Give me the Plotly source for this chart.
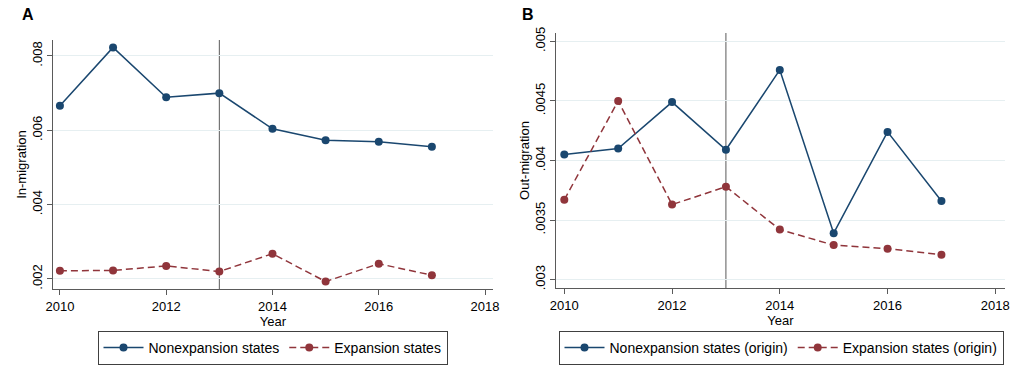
import plotly.graph_objects as go

years = [2010, 2011, 2012, 2013, 2014, 2015, 2016, 2017]
policy_year = 2013

# Panel A: In-migration
in_nonexp = [0.00666, 0.00823, 0.00689, 0.00700, 0.00604, 0.00573, 0.00569, 0.00556]
in_exp = [0.00222, 0.00223, 0.00235, 0.00220, 0.00268, 0.00193, 0.00241, 0.00210]

# Panel B: Out-migration
out_nonexp = [0.00405, 0.00410, 0.00449, 0.00409, 0.00476, 0.00339, 0.00424, 0.00366]
out_exp = [0.00367, 0.00450, 0.00363, 0.00378, 0.00342, 0.00329, 0.00326, 0.00321]

x_ticks = [2010, 2012, 2014, 2016, 2018]
a_yticks = [0.002, 0.004, 0.006, 0.008]
a_ylabels = [".002", ".004", ".006", ".008"]
b_yticks = [0.003, 0.0035, 0.004, 0.0045, 0.005]
b_ylabels = [".003", ".0035", ".004", ".0045", ".005"]

NAVY = "#1a476f"
MAROON = "#90353b"
GRID = "#e6eff1"
AXIS = "#5a5a5a"
FONT = "Arial, Liberation Sans, sans-serif"

W, H = 1021, 376

fig = go.Figure()

def add(x, y, name, color, dash, xa, ya, legend):
    fig.add_trace(go.Scatter(
        x=x, y=y, name=name, mode="lines+markers",
        line=dict(color=color, width=1.5, dash=dash),
        marker=dict(color=color, size=8),
        xaxis=xa, yaxis=ya, legend=legend,
    ))

add(years, in_nonexp, "Nonexpansion states", NAVY, "solid", "x", "y", "legend")
add(years, in_exp, "Expansion states", MAROON, "7px,4px", "x", "y", "legend")
add(years, out_nonexp, "Nonexpansion states (origin)", NAVY, "solid", "x2", "y2", "legend2")
add(years, out_exp, "Expansion states (origin)", MAROON, "7px,4px", "x2", "y2", "legend2")

def px_x(p):
    return p / W

def px_y(p):
    return (H - p) / H

xcommon = dict(
    tickvals=x_ticks, showgrid=False, zeroline=False, automargin=False,
    showline=True, linecolor=AXIS, linewidth=1,
    ticks="outside", ticklen=5, tickcolor=AXIS,
    tickfont=dict(size=13, color="black", family=FONT),
    title=dict(text="Year", font=dict(size=13, color="black", family=FONT), standoff=0),
)
ycommon = dict(
    showgrid=True, gridcolor=GRID, gridwidth=1, zeroline=False, automargin=False,
    showline=True, linecolor=AXIS, linewidth=1,
    ticks="outside", ticklen=5, tickcolor=AXIS, tickangle=-90,
    tickfont=dict(size=13, color="black", family=FONT),
)

fig.update_layout(
    width=W, height=H,
    margin=dict(l=0, r=0, t=0, b=0, pad=0),
    paper_bgcolor="white", plot_bgcolor="white",
    font=dict(family=FONT, color="black"),
    xaxis=dict(xcommon, domain=[px_x(53), px_x(493)], range=[2009.87, 2018.15], anchor="y"),
    yaxis=dict(ycommon, domain=[px_y(289), px_y(40)], range=[0.00173, 0.00843],
               tickvals=a_yticks, ticktext=a_ylabels, anchor="x",
               title=dict(text="In-migration", font=dict(size=13, color="black", family=FONT), standoff=0)),
    xaxis2=dict(xcommon, domain=[px_x(556), px_x(1005)], range=[2009.846, 2018.18], anchor="y2"),
    yaxis2=dict(ycommon, domain=[px_y(288), px_y(33)], range=[0.00293, 0.00507],
                tickvals=b_yticks, ticktext=b_ylabels, anchor="x2",
                title=dict(text="Out-migration", font=dict(size=13, color="black", family=FONT), standoff=0)),
    legend=dict(
        orientation="h", x=px_x(272.5), xanchor="center", y=px_y(331), yanchor="top",
        bordercolor="#404040", borderwidth=1, bgcolor="white",
        font=dict(size=14, color="black", family=FONT), itemwidth=40,
    ),
    legend2=dict(
        orientation="h", x=px_x(781), xanchor="center", y=px_y(331), yanchor="top",
        bordercolor="#404040", borderwidth=1, bgcolor="white",
        font=dict(size=14, color="black", family=FONT), itemwidth=40,
    ),
    shapes=[
        dict(type="line", xref="x", yref="y domain", x0=policy_year, x1=policy_year, y0=0, y1=1,
             line=dict(color=AXIS, width=1), layer="below"),
        dict(type="line", xref="x2", yref="y2 domain", x0=policy_year, x1=policy_year, y0=0, y1=1,
             line=dict(color=AXIS, width=1), layer="below"),
    ],
    annotations=[
        dict(text="<b>A</b>", x=px_x(20), y=px_y(4), xref="paper", yref="paper",
             xanchor="left", yanchor="top", showarrow=False, font=dict(size=16, color="black", family=FONT)),
        dict(text="<b>B</b>", x=px_x(520), y=px_y(4), xref="paper", yref="paper",
             xanchor="left", yanchor="top", showarrow=False, font=dict(size=16, color="black", family=FONT)),
    ],
)

fig.write_html(
    "out.html",
    config={"displayModeBar": False},
    post_script="document.body.style.margin='0';document.body.style.overflow='hidden';",
)
